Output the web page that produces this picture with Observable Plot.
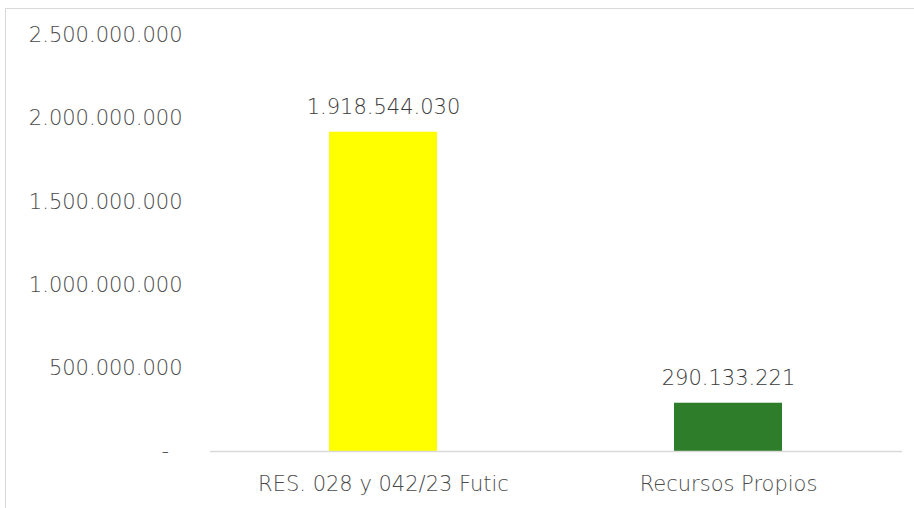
<!DOCTYPE html>
<html>
<head>
<meta charset="utf-8">
<script src="https://cdn.jsdelivr.net/npm/d3@7"></script>
<script src="https://cdn.jsdelivr.net/npm/@observablehq/plot@0.6"></script>
<style>
  html, body { margin: 0; padding: 0; background: #fff; overflow: hidden; }
  #wrap { position: relative; width: 914px; height: 508px; }
  #frame { position: absolute; left: 5px; top: 8px; width: 930px; height: 530px; border: 1px solid #d9d9d9; box-sizing: border-box; pointer-events: none; }
  svg { position: absolute; left: 0; top: 0; }
</style>
</head>
<body>
<div id="wrap"><div id="frame"></div></div>
<script>
const categories = ["RES. 028 y 042/23 Futic", "Recursos Propios"];
const values = [1918544030, 290133221];
const colors = ["#ffff00", "#2e7d2a"];
const yTicks = [0, 500000000, 1000000000, 1500000000, 2000000000, 2500000000];

const data = categories.map((c, i) => ({category: c, value: values[i], color: colors[i]}));
const locale = d3.formatLocale({decimal: ",", thousands: ".", grouping: [3], currency: ["", ""]});
const fmt = locale.format(",d");
const tickFmt = d => d === 0 ? "-\u00a0\u00a0" : fmt(d);

const font = "'DejaVu Sans', sans-serif";
const chart = Plot.plot({
  width: 914,
  height: 508,
  marginTop: 35,
  marginBottom: 57,
  marginLeft: 210,
  marginRight: 12,
  style: {fontFamily: font, fontSize: "21px", fontWeight: 200, color: "#4a4a4a", background: "transparent"},
  x: {domain: categories, paddingInner: 0.686, paddingOuter: 0.344, label: null},
  y: {domain: [0, 2500000000], label: null},
  marks: [
    Plot.barY(data, {x: "category", y: "value", fill: "color"}),
    Plot.ruleY([0], {stroke: "#d9d9d9", strokeWidth: 1.5}),
    Plot.text(data, {x: "category", y: "value", text: d => fmt(d.value), dy: -25, fill: "#3a3a3a", fontSize: 21, fontWeight: 200}),
    Plot.axisY({ticks: yTicks, tickFormat: tickFmt, tickSize: 0, tickPadding: 28, fontSize: 21, fill: "#4a4a4a"}),
    Plot.axisX({tickSize: 0, tickPadding: 25, fontSize: 21, fill: "#4a4a4a"})
  ]
});
document.getElementById("wrap").prepend(chart);
</script>
</body>
</html>
